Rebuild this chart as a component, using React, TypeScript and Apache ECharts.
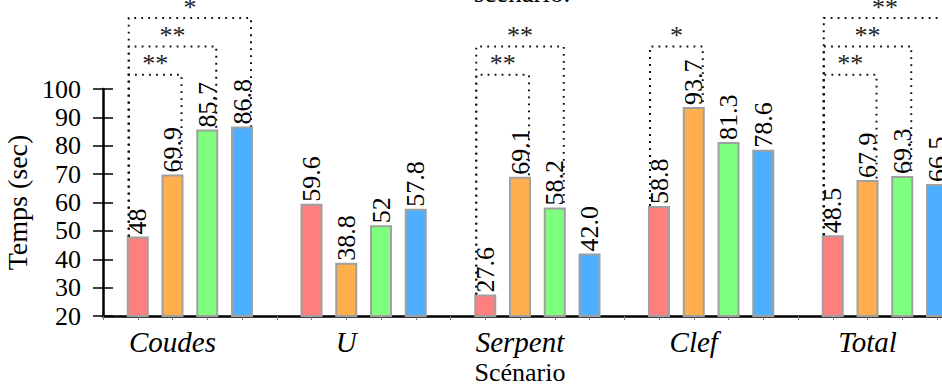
import React, { useEffect, useRef } from "react";
import * as echarts from "echarts";

const categories = ["Coudes", "U", "Serpent", "Clef", "Total"];
const seriesNames = ["Condition 1", "Condition 2", "Condition 3", "Condition 4"];
const seriesColors = ["#FF7F7F", "#FFAF4D", "#7FFF7F", "#4DAFFF"];

const redValues = [48, 59.6, 27.6, 58.8, 48.5];
const orangeValues = [69.9, 38.8, 69.1, 93.7, 67.9];
const greenValues = [85.7, 52, 58.2, 81.3, 69.3];
const blueValues = [86.8, 57.8, 42.0, 78.6, 66.5];

const redLabels = ["48", "59.6", "27.6", "58.8", "48.5"];
const orangeLabels = ["69.9", "38.8", "69.1", "93.7", "67.9"];
const greenLabels = ["85.7", "52", "58.2", "81.3", "69.3"];
const blueLabels = ["86.8", "57.8", "42.0", "78.6", "66.5"];

const yTicks = [20, 30, 40, 50, 60, 70, 80, 90, 100];

// significance brackets
const bracketGroups = [0, 0, 0, 2, 2, 3, 4, 4, 4];
const bracketFrom = [0, 0, 0, 0, 0, 0, 0, 0, 0];
const bracketTo = [1, 2, 3, 1, 2, 1, 1, 2, 3];
const bracketLevels = [105, 115, 125, 105, 115, 115, 105, 115, 125];
const bracketMarks = ["**", "**", "*", "**", "**", "*", "**", "**", "**"];

const allValues = [redValues, orangeValues, greenValues, blueValues];
const allLabels = [redLabels, orangeLabels, greenLabels, blueLabels];

const FONT = "Liberation Serif";
const SLOTS = 26; // slot positions 0..25 along the x axis

const xPos = (g: number, i: number) => g * 5 + i + 1;

export default function App() {
  const ref = useRef<HTMLDivElement>(null);

  useEffect(() => {
    if (!ref.current) return;
    const chart = echarts.init(ref.current, null, { renderer: "svg" });

    const slotLabels = Array.from({ length: SLOTS }, (_, k) => {
      const g = (k - 2) / 5;
      return Number.isInteger(g) && g >= 0 && g < categories.length ? categories[g] : "";
    });

    const barSeries = allValues.map((vals, s) => {
      const data: any[] = Array.from({ length: SLOTS }, () => "-");
      vals.forEach((v, g) => {
        data[xPos(g, s)] = v;
      });
      return {
        name: seriesNames[s],
        type: "bar",
        barWidth: 22,
        barGap: "-100%",
        data,
        itemStyle: {
          color: seriesColors[s],
          borderColor: "#A0A0A0",
          borderWidth: 2,
        },
        label: {
          show: true,
          position: "top",
          rotate: 90,
          align: "left",
          verticalAlign: "middle",
          distance: 2,
          color: "#000",
          fontFamily: FONT,
          fontSize: 26,
          formatter: (p: any) => allLabels[s][(p.dataIndex - s - 1) / 5],
        },
        z: 2,
      };
    });

    const bracketData = bracketGroups.map((g, k) => [
      xPos(g, bracketFrom[k]),
      xPos(g, bracketTo[k]),
      allValues[bracketFrom[k]][g],
      allValues[bracketTo[k]][g],
      bracketLevels[k],
    ]);

    const bracketSeries = {
      type: "custom",
      coordinateSystem: "cartesian2d",
      clip: false,
      encode: { x: [0, 1], y: [2, 3, 4] },
      data: bracketData,
      z: 5,
      renderItem: (params: any, api: any) => {
        const x1 = api.value(0);
        const x2 = api.value(1);
        const yA = api.value(2);
        const yB = api.value(3);
        const top = api.value(4);
        const pA = api.coord([x1, yA]);
        const pB = api.coord([x2, yB]);
        const pT = api.coord([x1, top]);
        const lx = pA[0] - 9;
        const rx = pB[0] + 9;
        const ty = pT[1];
        return {
          type: "group",
          children: [
            {
              type: "polyline",
              shape: {
                points: [
                  [lx, pA[1]],
                  [lx, ty],
                  [rx, ty],
                  [rx, pB[1]],
                ],
              },
              style: {
                stroke: "#111",
                lineWidth: 2,
                lineDash: [1.8, 5.2],
                fill: null,
              },
            },
            {
              type: "text",
              x: (lx + rx) / 2,
              y: ty + 2,
              style: {
                text: bracketMarks[params.dataIndex],
                fontFamily: FONT,
                fontSize: 26,
                fill: "#222",
                align: "center",
                verticalAlign: "bottom",
              },
            },
          ],
        };
      },
    };

    const option: any = {
      animation: false,
      backgroundColor: "#ffffff",
      grid: {
        left: 103,
        top: 89,
        width: 868.75,
        height: 227,
        containLabel: false,
        outerBoundsMode: "none",
      },
      xAxis: {
        type: "category",
        data: slotLabels,
        boundaryGap: false,
        splitLine: { show: false },
        axisLine: { show: true, lineStyle: { color: "#000", width: 2.5 } },
        axisTick: { show: true, interval: 0, length: 4, lineStyle: { color: "#777", width: 1 } },
        axisLabel: {
          interval: 0,
          margin: 11,
          color: "#000",
          fontFamily: FONT,
          fontStyle: "italic",
          fontSize: 29,
        },
      },
      yAxis: [
        {
          type: "value",
          min: yTicks[0],
          max: yTicks[yTicks.length - 1],
          interval: 10,
          position: "left",
          name: "Temps (sec)",
          nameLocation: "middle",
          nameGap: 67,
          nameTextStyle: { fontFamily: FONT, fontSize: 28, color: "#000" },
          splitLine: { show: false },
          axisLine: { show: true, lineStyle: { color: "#000", width: 2.5 } },
          axisTick: { show: true, length: 10, lineStyle: { color: "#000", width: 1.5 } },
          axisLabel: {
            margin: 22,
            color: "#000",
            fontFamily: FONT,
            fontSize: 26,
          },
        },
        {
          type: "value",
          min: yTicks[0],
          max: yTicks[yTicks.length - 1],
          interval: 10,
          position: "left",
          splitLine: { show: false },
          axisLine: { show: false },
          axisTick: { show: true, inside: true, length: 10, lineStyle: { color: "#000", width: 1.5 } },
          axisLabel: { show: false },
        },
      ],
      graphic: [
        {
          type: "text",
          x: 520,
          y: 372,
          style: {
            text: "Scénario",
            fontFamily: FONT,
            fontSize: 26,
            fill: "#000",
            align: "center",
            verticalAlign: "middle",
          },
        },
        {
          type: "text",
          x: 522,
          y: 6,
          style: {
            text: "scénario.",
            fontFamily: FONT,
            fontSize: 27,
            fill: "#000",
            align: "center",
            verticalAlign: "bottom",
          },
        },
      ],
      series: [...barSeries, bracketSeries],
    };

    chart.setOption(option);
    return () => chart.dispose();
  }, []);

  return (
    <div
      ref={ref}
      style={{ position: "fixed", left: 0, top: 0, width: 942, height: 388, background: "#fff" }}
    />
  );
}
